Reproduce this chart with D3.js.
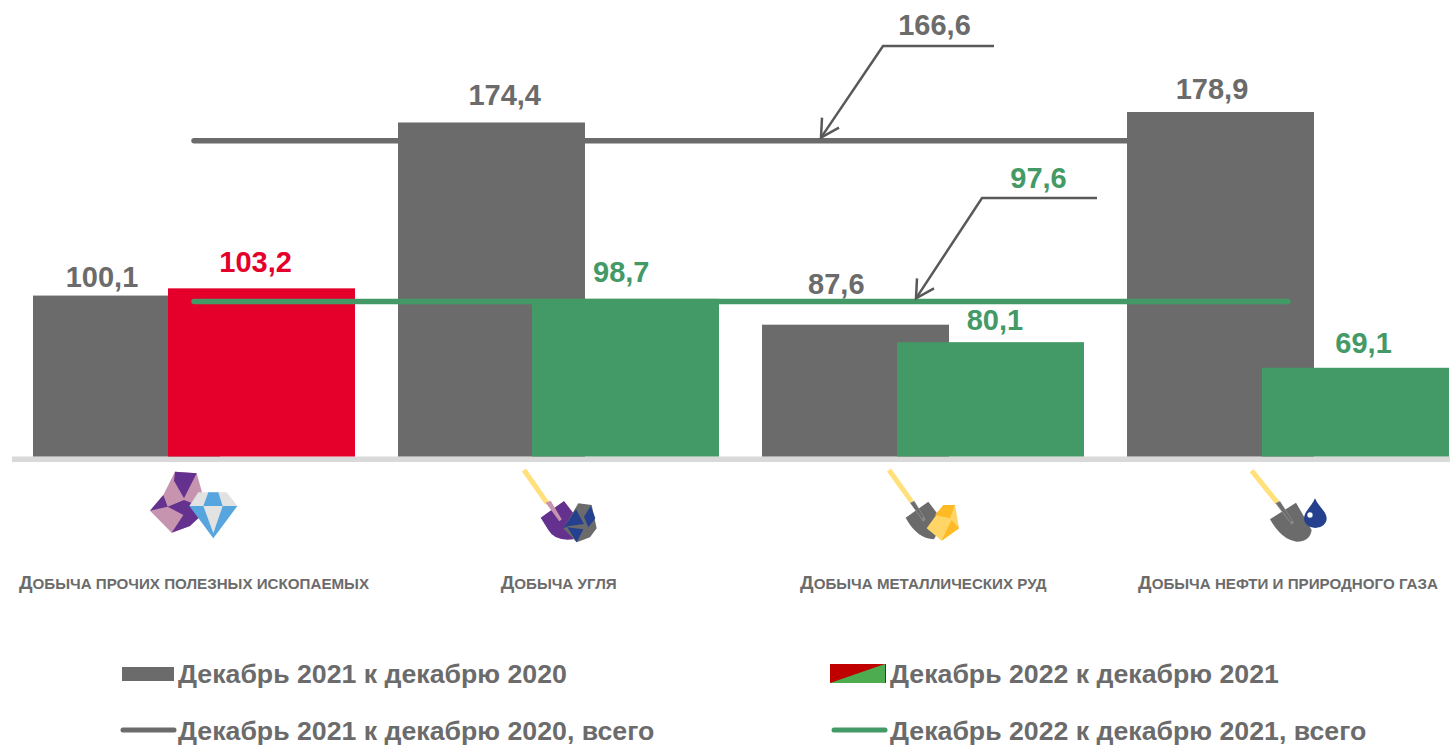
<!DOCTYPE html>
<html lang="ru">
<head>
<meta charset="utf-8">
<title>Добыча полезных ископаемых</title>
<script src="https://cdn.jsdelivr.net/npm/d3@7"></script>
<style>
    html, body { margin: 0; padding: 0; background: #fff; }
    svg { display: block; }
    text { font-family: "Liberation Sans", Arial, sans-serif; font-weight: bold; }
</style>
</head>
<body>
<svg id="chart" width="1450" height="746"></svg>
<script>
const categories = [
    'Добыча прочих полезных ископаемых',
    'Добыча угля',
    'Добыча металлических руд',
    'Добыча нефти и природного газа'
];
const values2021 = [100.1, 174.4, 87.6, 178.9];
const values2022 = [103.2, 98.7, 80.1, 69.1];
const total2021 = 166.6;
const total2022 = 97.6;
const legendLabels = [
    'Декабрь 2021 к декабрю 2020',
    'Декабрь 2022 к декабрю 2021',
    'Декабрь 2021 к декабрю 2020, всего',
    'Декабрь 2022 к декабрю 2021, всего'
];

const GRAY = '#6b6b6b';
const GREEN = '#449a66';
const RED = '#e4002b';
const PINK = '#c794b0';
const PURPLE = '#65318e';
const NAVY = '#24408e';
const YELLOW = '#ffe07a';

const svg = d3.select('#chart');
const fmt = v => v.toFixed(1).replace('.', ',');

// the value axis of the original does not start at zero
const y = d3.scaleLinear().domain([30.8, 178.9]).range([457, 112]);
const x = d3.scaleBand().domain(categories).range([33, 1449]).paddingInner(0.117);

const barWidth = 187;
const barOffset = 134.6;

// baseline
svg.append('rect').attr('x', 12).attr('y', y(30.8) - 0.5).attr('width', 1438).attr('height', 5.5).attr('fill', '#d9d9d9');

// bars
svg.append('g').selectAll('rect')
    .data(values2021)
    .join('rect')
    .attr('x', (d, i) => Math.round(x(categories[i])))
    .attr('y', d => y(d))
    .attr('width', barWidth)
    .attr('height', d => y(30.8) - y(d) - 0.5)
    .attr('fill', GRAY);

svg.append('g').selectAll('rect')
    .data(values2022)
    .join('rect')
    .attr('x', (d, i) => Math.round(x(categories[i]) + barOffset))
    .attr('y', d => y(d))
    .attr('width', barWidth)
    .attr('height', d => y(30.8) - y(d) - 0.5)
    .attr('fill', d => (d > 100 ? RED : GREEN));

// total lines
const first = x(categories[0]) + x.bandwidth() / 2;
const last = x(categories[3]) + x.bandwidth() / 2;
const totalLine = d3.line().x(d => d[0]).y(d => y(d[1]));
[[total2021, GRAY], [total2022, GREEN]].forEach(([total, colour]) => {
    svg.append('path')
        .attr('d', totalLine([[first, total], [last, total]]))
        .attr('fill', 'none')
        .attr('stroke', colour)
        .attr('stroke-width', 5.5)
        .attr('stroke-linecap', 'round');
});

// value labels, hand placed like in the original
const grayShift = [[69, 9], [107, 17], [74, 31], [85, 13]];
const colorShift = [[88, 16], [89, 17], [98, 12], [102, 15]];
const valueLabel = (sel, vals, shift, fill, offset) => sel.selectAll('text')
    .data(vals)
    .join('text')
    .attr('x', (d, i) => x(categories[i]) + offset + shift[i][0])
    .attr('y', (d, i) => y(d) - shift[i][1])
    .attr('text-anchor', 'middle')
    .attr('font-size', 29)
    .attr('fill', fill)
    .text(fmt);
valueLabel(svg.append('g'), values2021, grayShift, GRAY, 0);
valueLabel(svg.append('g'), values2022, colorShift, d => (d > 100 ? RED : GREEN), barOffset);

// callouts
const callout = (total, colour, ax, ay, shelfEnd, lx, labelX, labelY) => {
    const tipY = y(total) - 3;
    const g = svg.append('g').attr('fill', 'none').attr('stroke', '#595959').attr('stroke-width', 2.5);
    g.append('path').attr('d', `M${shelfEnd},${ay}H${ax}L${lx},${tipY}`);
    g.append('path').attr('d', `M${lx + 1},${tipY - 20}L${lx},${tipY}L${lx + 18},${tipY - 10}`);
    svg.append('text')
        .attr('x', labelX).attr('y', labelY)
        .attr('text-anchor', 'middle').attr('font-size', 29).attr('fill', colour)
        .text(fmt(total));
};
callout(total2021, GRAY, 883, 46, 994, 821, 934.5, 35);
callout(total2022, GREEN, 982, 198, 1097, 916, 1038.5, 188);

// category labels
const axis = svg.append('g')
    .attr('transform', `translate(0,${y(30.8)})`)
    .call(d3.axisBottom(x).tickSize(0).tickPadding(125));
axis.select('.domain').remove();
axis.selectAll('text')
    .attr('font-family', '"Liberation Sans", Arial, sans-serif')
    .attr('fill', GRAY)
    .each(function (d) {
        // first letter large, the rest as capitals of a smaller size
        const label = d3.select(this).text(null);
        label.append('tspan').attr('font-size', 19).text(d.slice(0, 1));
        label.append('tspan').attr('font-size', 15.15).style('text-transform', 'uppercase').text(d.slice(1));
    });

// icons, drawn in the coordinates of a 3x crop
const icon = tx => svg.append('g').attr('transform', `translate(${tx},450) scale(${1 / 3})`);
const poly = (g, pts, fill) => g.append('polygon').attr('points', pts).attr('fill', fill);
const stick = (g, from, to, colour, w) => g.append('line')
    .attr('x1', from[0]).attr('y1', from[1]).attr('x2', to[0]).attr('y2', to[1])
    .attr('stroke', colour).attr('stroke-width', w);

const gem = icon(0);
poly(gem, '525,65 590,70 607,130 570,228 515,248 450,182 490,135', PINK);
poly(gem, '525,65 590,70 552,145 522,92', PURPLE);
poly(gem, '450,182 490,135 503,170', PURPLE);
poly(gem, '503,170 552,150 590,165 600,200 570,228 515,248 550,195', PURPLE);
poly(gem, '595,127 680,127 712,168 568,168', '#e2e2e2');
poly(gem, '625,127 655,127 668,168 610,168', '#56a5de');
poly(gem, '568,168 712,168 640,265', '#56a5de');
poly(gem, '610,168 668,168 640,250', '#e2e2e2');

const coal = icon(480);
stick(coal, [132, 60], [202, 160], YELLOW, 15);
coal.append('path').attr('d', 'M182,203L252,153L300,215L280,268Q225,275 205,240Z').attr('fill', PURPLE);
poly(coal, '197,158 212,152 245,208 238,214', PINK);
poly(coal, '295,160 335,165 350,235 330,262 290,277 250,235', GRAY);
poly(coal, '288,178 312,222 268,228 250,235', NAVY);
poly(coal, '332,168 346,205 325,232 312,200', NAVY);
poly(coal, '262,232 310,238 290,277', NAVY);

const ore = icon(860);
stick(ore, [87, 60], [155, 155], YELLOW, 15);
ore.append('path').attr('d', 'M137,203L205,155L250,215L222,268Q170,265 137,203Z').attr('fill', GRAY);
poly(ore, '150,158 163,152 197,208 190,216', '#8a8a8a');
poly(ore, '152,160 161,155 190,200 187,206', GRAY);
poly(ore, '250,165 285,165 297,235 245,272 200,235 225,200', '#ffd566');
poly(ore, '250,165 285,165 270,205 225,195', '#ffba26');
poly(ore, '275,210 297,235 245,272 262,235', '#ffba26');

const oil = icon(1230);
stick(oil, [65, 62], [142, 158], YELLOW, 15);
oil.append('path').attr('d', 'M120,208L198,158L245,240Q240,275 200,275Q155,270 120,208Z').attr('fill', GRAY);
poly(oil, '136,160 150,153 192,218 185,224', '#8a8a8a');
poly(oil, '140,160 149,156 186,212 182,216', GRAY);
oil.append('path').attr('d', 'M255,145C265,170 290,185 290,205A34,29 0 0 1 222,205C222,185 245,170 255,145Z').attr('fill', NAVY);
oil.append('circle').attr('cx', 240).attr('cy', 195).attr('r', 8).attr('fill', '#fff');

// legend
const legend = svg.append('g');
legend.append('rect').attr('x', 122).attr('y', 667).attr('width', 52).attr('height', 14).attr('fill', GRAY);
legend.append('rect').attr('x', 830).attr('y', 664).attr('width', 56).attr('height', 19).attr('fill', '#c00000');
poly(legend, '830,683 885,664 885,683', '#4cac4f');
[[121, 176, GRAY], [832, 887, GREEN]].forEach(([a, b, colour]) => {
    legend.append('line')
        .attr('x1', a + 2).attr('x2', b - 2).attr('y1', 730).attr('y2', 730)
        .attr('stroke', colour).attr('stroke-width', 5).attr('stroke-linecap', 'round');
});
legend.selectAll('text')
    .data(legendLabels)
    .join('text')
    .attr('x', (d, i) => (i % 2 ? 890 : 178))
    .attr('y', (d, i) => (i < 2 ? 683 : 740))
    .attr('font-size', 26.7)
    .attr('fill', GRAY)
    .text(d => d);
</script>
</body>
</html>
